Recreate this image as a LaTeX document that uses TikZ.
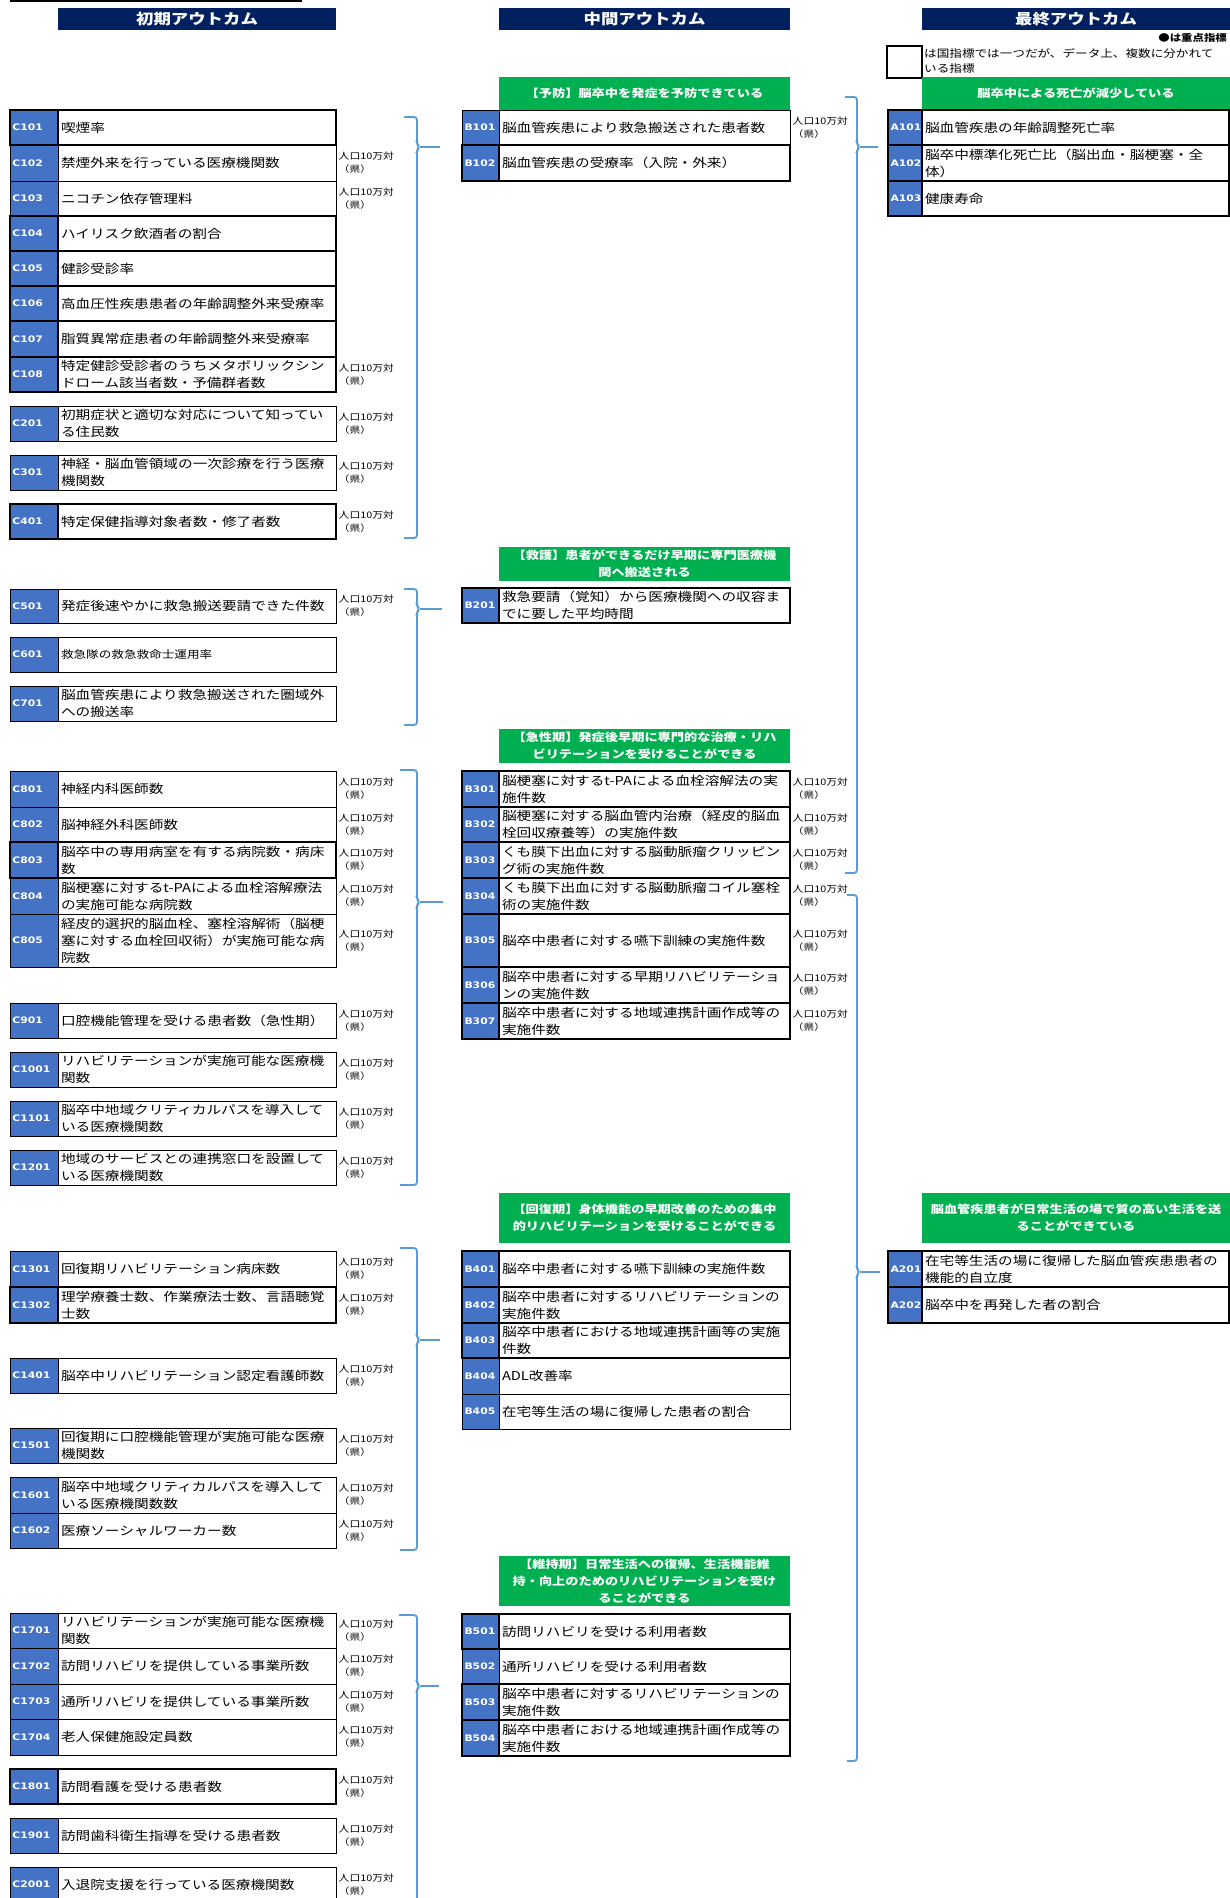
\documentclass[tikz,border=0pt]{standalone}
\usepackage{fontspec}
\setmainfont{Noto Sans CJK JP}[FakeStretch=1.2]
\newfontfamily\idfont{DejaVu Sans}[FakeStretch=1.2]
\usetikzlibrary{positioning}
\definecolor{navyhead}{RGB}{0,32,96}
\definecolor{grnhead}{RGB}{0,176,80}
\definecolor{idblue}{RGB}{68,114,196}
\definecolor{brcblue}{RGB}{91,155,213}
\begin{document}
\begin{tikzpicture}[x=1pt,y=-1pt,
  idbox/.style={draw=black,fill=idblue,text=white,font=\idfont\bfseries\fontsize{9}{10}\selectfont,
    inner xsep=2.5pt,inner ysep=0pt,outer sep=0pt,align=left,anchor=west},
  txtbox/.style={draw=black,fill=white,font=\fontsize{12.2}{17}\selectfont,
    inner xsep=3pt,inner ysep=0pt,outer sep=0pt,align=left,anchor=west},
  poplbl/.style={font=\fontsize{9}{13}\selectfont,align=left,inner sep=0pt},
  colhead/.style={fill=navyhead,text=white,font=\bfseries\fontsize{14.5}{17}\selectfont,
    minimum height=22pt,inner sep=0pt},
  grnbox/.style={fill=grnhead,text=white,font=\bfseries\fontsize{11}{17}\selectfont,
    align=center,inner sep=0pt},
  brc/.style={draw=brcblue,line width=1.8pt,rounded corners=3pt}]

\useasboundingbox (0,0) rectangle (1230,1898);
\fill[white] (0,0) rectangle (1230,1898);
\clip (0,0) rectangle (1230,1898);

\draw[line width=1.5pt] (10,1) -- (302,1);

% column heads
\node[colhead,minimum width=278pt] (hC) at (197,19) {初期アウトカム};
\node[colhead,minimum width=291pt] (hB) at (644.5,19) {中間アウトカム};
\node[colhead,minimum width=308pt] (hA) at (1076,19) {最終アウトカム};

\node[anchor=east,inner sep=0pt,font=\bfseries\fontsize{9.5}{11}\selectfont] (keynote) at (1227,38) {●は重点指標};
\node[draw,line width=1.6pt,minimum width=35pt,minimum height=32pt,inner sep=0pt,outer sep=0pt] (lgbox) at (904.5,62) {};
\node[anchor=west,inner sep=0pt,align=left,font=\fontsize{10.5}{15}\selectfont] (lgtxt) at (924,60.5)
  {は国指標では一つだが、データ上、複数に分かれて\\いる指標};

% green heads
\foreach \gid/\xc/\ya/\yb/\ww/\tx in {
  gB1/644.5/77/110/291pt/{【予防】脳卒中を発症を予防できている},
  gB2/644.5/547/581/291pt/{【救護】患者ができるだけ早期に専門医療機\\関へ搬送される},
  gB3/644.5/729/763/291pt/{【急性期】発症後早期に専門的な治療・リハ\\ビリテーションを受けることができる},
  gB4/644.5/1193/1243/291pt/{【回復期】身体機能の早期改善のための集中\\的リハビリテーションを受けることができる},
  gB5/644.5/1556/1606/291pt/{【維持期】日常生活への復帰、生活機能維\\持・向上のためのリハビリテーションを受け\\ることができる},
  gA1/1076/77/110/308pt/{脳卒中による死亡が減少している},
  gA2/1076/1193/1243/308pt/{脳血管疾患者が日常生活の場で質の高い生活を送\\ることができている}}{
  \pgfmathsetlengthmacro\hh{\yb-\ya}
  \pgfmathsetmacro\yc{(\ya+\yb)/2}
  \node[grnbox,text width=\ww,minimum height=\hh] (\gid) at (\xc,\yc) {\tx};
}

% initial outcomes
\foreach \rid/\ya/\yb/\lw/\tx in {
  C101/110/145/1.6pt/{喫煙率},
  C102/145/181/0.8pt/{禁煙外来を行っている医療機関数},
  C103/181/216/0.8pt/{ニコチン依存管理料},
  C104/216/251/1.6pt/{ハイリスク飲酒者の割合},
  C105/251/286/1.6pt/{健診受診率},
  C106/286/321/1.6pt/{高血圧性疾患患者の年齢調整外来受療率},
  C107/321/357/1.6pt/{脂質異常症患者の年齢調整外来受療率},
  C108/357/392/1.6pt/{特定健診受診者のうちメタボリックシン\\ドローム該当者数・予備群者数},
  C201/406/441/0.8pt/{初期症状と適切な対応について知ってい\\る住民数},
  C301/455/490/0.8pt/{神経・脳血管領域の一次診療を行う医療\\機関数},
  C401/504/539/1.6pt/{特定保健指導対象者数・修了者数},
  C501/589/623/0.8pt/{発症後速やかに救急搬送要請できた件数},
  C601/637/672/0.8pt/{{\fontsize{10.5}{14}\selectfont 救急隊の救急救命士運用率}},
  C701/686/721/0.8pt/{脳血管疾患により救急搬送された圏域外\\への搬送率},
  C801/771/807/0.8pt/{神経内科医師数},
  C802/807/842/0.8pt/{脳神経外科医師数},
  C803/842/878/1.6pt/{脳卒中の専用病室を有する病院数・病床\\数},
  C804/878/914/0.8pt/{脳梗塞に対するt-PAによる血栓溶解療法\\の実施可能な病院数},
  C805/914/967/0.8pt/{経皮的選択的脳血栓、塞栓溶解術（脳梗\\塞に対する血栓回収術）が実施可能な病\\院数},
  C901/1003/1038/0.8pt/{口腔機能管理を受ける患者数（急性期）},
  C1001/1052/1087/0.8pt/{リハビリテーションが実施可能な医療機\\関数},
  C1101/1101/1136/0.8pt/{脳卒中地域クリティカルパスを導入して\\いる医療機関数},
  C1201/1150/1185/0.8pt/{地域のサービスとの連携窓口を設置して\\いる医療機関数},
  C1301/1251/1287/0.8pt/{回復期リハビリテーション病床数},
  C1302/1287/1323/1.6pt/{理学療養士数、作業療法士数、言語聴覚\\士数},
  C1401/1358/1393/0.8pt/{脳卒中リハビリテーション認定看護師数},
  C1501/1428/1463/0.8pt/{回復期に口腔機能管理が実施可能な医療\\機関数},
  C1601/1477/1513/0.8pt/{脳卒中地域クリティカルパスを導入して\\いる医療機関数数},
  C1602/1513/1548/0.8pt/{医療ソーシャルワーカー数},
  C1701/1613/1648/0.8pt/{リハビリテーションが実施可能な医療機\\関数},
  C1702/1648/1684/0.8pt/{訪問リハビリを提供している事業所数},
  C1703/1684/1719/0.8pt/{通所リハビリを提供している事業所数},
  C1704/1719/1755/0.8pt/{老人保健施設定員数},
  C1801/1769/1804/1.6pt/{訪問看護を受ける患者数},
  C1901/1818/1853/0.8pt/{訪問歯科衛生指導を受ける患者数},
  C2001/1867/1902/0.8pt/{入退院支援を行っている医療機関数}}{
  \pgfmathsetlengthmacro\hh{\yb-\ya}
  \pgfmathsetmacro\yc{(\ya+\yb)/2}
  \node[idbox,line width=\lw,text width=43pt,minimum height=\hh] (\rid) at (10,\yc) {\rid};
  \node[txtbox,line width=\lw,text width=272pt,minimum height=\hh] (t-\rid) at (58,\yc) {\tx};
}

% intermediate outcomes
\foreach \rid/\ya/\yb/\lw/\tx in {
  B101/110/145/0.8pt/{脳血管疾患により救急搬送された患者数},
  B102/145/181/1.6pt/{脳血管疾患の受療率（入院・外来）},
  B201/588/623/1.6pt/{救急要請（覚知）から医療機関への収容ま\\でに要した平均時間},
  B301/771/807/1.6pt/{脳梗塞に対するt-PAによる血栓溶解法の実\\施件数},
  B302/807/842/1.6pt/{脳梗塞に対する脳血管内治療（経皮的脳血\\栓回収療養等）の実施件数},
  B303/842/878/1.6pt/{くも膜下出血に対する脳動脈瘤クリッピン\\グ術の実施件数},
  B304/878/914/1.6pt/{くも膜下出血に対する脳動脈瘤コイル塞栓\\術の実施件数},
  B305/914/967/1.6pt/{脳卒中患者に対する嚥下訓練の実施件数},
  B306/967/1003/1.6pt/{脳卒中患者に対する早期リハビリテーショ\\ンの実施件数},
  B307/1003/1039/1.6pt/{脳卒中患者に対する地域連携計画作成等の\\実施件数},
  B401/1251/1287/1.6pt/{脳卒中患者に対する嚥下訓練の実施件数},
  B402/1287/1323/1.6pt/{脳卒中患者に対するリハビリテーションの\\実施件数},
  B403/1323/1358/1.6pt/{脳卒中患者における地域連携計画等の実施\\件数},
  B404/1358/1394/0.8pt/{ADL改善率},
  B405/1394/1429/0.8pt/{在宅等生活の場に復帰した患者の割合},
  B501/1614/1649/1.6pt/{訪問リハビリを受ける利用者数},
  B502/1649/1684/0.8pt/{通所リハビリを受ける利用者数},
  B503/1684/1720/1.6pt/{脳卒中患者に対するリハビリテーションの\\実施件数},
  B504/1720/1756/1.6pt/{脳卒中患者における地域連携計画作成等の\\実施件数}}{
  \pgfmathsetlengthmacro\hh{\yb-\ya}
  \pgfmathsetmacro\yc{(\ya+\yb)/2}
  \node[idbox,line width=\lw,text width=32pt,minimum height=\hh] (\rid) at (462,\yc) {\rid};
  \node[txtbox,line width=\lw,text width=285pt,minimum height=\hh] (t-\rid) at (499,\yc) {\tx};
}

% final outcomes
\foreach \rid/\ya/\yb/\lw/\tx in {
  A101/110/145/1.2pt/{脳血管疾患の年齢調整死亡率},
  A102/145/181/1.2pt/{脳卒中標準化死亡比（脳出血・脳梗塞・全\\体）},
  A103/181/216/1.2pt/{健康寿命},
  A201/1251/1287/1.2pt/{在宅等生活の場に復帰した脳血管疾患患者の\\機能的自立度},
  A202/1287/1323/1.2pt/{脳卒中を再発した者の割合}}{
  \pgfmathsetlengthmacro\hh{\yb-\ya}
  \pgfmathsetmacro\yc{(\ya+\yb)/2}
  \node[idbox,line width=\lw,text width=29pt,minimum height=\hh] (\rid) at (888,\yc) {\rid};
  \node[txtbox,line width=\lw,text width=301pt,minimum height=\hh] (t-\rid) at (922,\yc) {\tx};
}

\foreach \rid in {C102,C103,C108,C201,C301,C401,C501,C801,C802,C803,C804,C805,C901,C1001,C1101,C1201,
  C1301,C1302,C1401,C1501,C1601,C1602,C1701,C1702,C1703,C1704,C1801,C1901,C2001,
  B101,B301,B302,B303,B304,B305,B306,B307}
  \node[poplbl,right=2.5pt of t-\rid] (p-\rid) {人口10万対\\（県）};

% brackets
\foreach \nm/\xa/\xb/\ya/\yt/\yb/\xe in {
  cb1/404/417/117/147/538/440,
  cb2/404/417/589/609/725/442,
  cb3/400/417/770/902/1185/443,
  cb4/400/417/1248/1340/1550/440,
  cb5/399/417/1615/1686/1930/439,
  ba1/845/857/97/147/873/878,
  ba2/847/857/895/1272/1761/880}{
  \coordinate (\nm) at ({\xb+2.5},\yt);
  \coordinate (\nm-e) at (\xe,\yt);
  \draw[brc] (\xa,\ya) -| (\xb,{\yt-3}) -- (\nm) -- (\xb,{\yt+3}) |- (\xa,\yb);
  \draw[brc] (\nm) -- (\nm-e);
}

\end{tikzpicture}
\end{document}
